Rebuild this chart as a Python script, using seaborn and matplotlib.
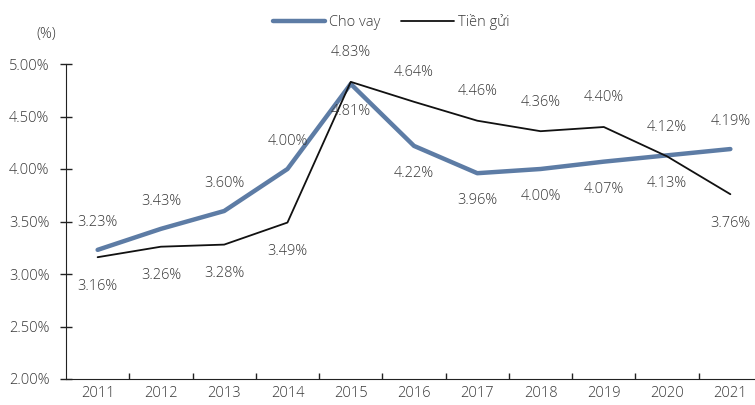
import numpy as np
import pandas as pd
import matplotlib
matplotlib.use("Agg")
import matplotlib.pyplot as plt
import seaborn as sns
from matplotlib.ticker import FixedLocator, PercentFormatter
from matplotlib.lines import Line2D

years = ["2011", "2012", "2013", "2014", "2015", "2016", "2017", "2018", "2019", "2020", "2021"]
cho_vay = [3.23, 3.43, 3.60, 4.00, 4.81, 4.22, 3.96, 4.00, 4.07, 4.13, 4.19]
tien_gui = [3.16, 3.26, 3.28, 3.49, 4.83, 4.64, 4.46, 4.36, 4.40, 4.12, 3.76]
# vị trí nhãn: +1 trên, -1 dưới
cho_vay_pos = [1, 1, 1, 1, -1, -1, -1, -1, -1, -1, 1]
tien_gui_pos = [-1, -1, -1, -1, 1, 1, 1, 1, 1, 1, -1]

sns.set_style("white")
plt.rcParams["font.family"] = ["Open Sans", "DejaVu Sans"]
text_col = "#383838"
fs = 10.5

df = pd.DataFrame({
    "x": list(range(len(years))) * 2,
    "val": cho_vay + tien_gui,
    "series": ["Cho vay"] * len(years) + ["Tiền gửi"] * len(years),
})

fig = plt.figure(figsize=(7.55, 4.05), dpi=100)
ax = fig.add_axes([66 / 755, 26 / 405, 696 / 755, 315 / 405])

sns.lineplot(data=df, x="x", y="val", hue="series", size="series",
             sizes={"Cho vay": 3.2, "Tiền gửi": 1.3},
             palette={"Cho vay": "#5d7ca5", "Tiền gửi": "#111111"},
             ax=ax, legend=False)

for i in range(len(years)):
    ax.annotate(f"{cho_vay[i]:.2f}%", (i, cho_vay[i]), xytext=(0, 20 * cho_vay_pos[i]),
                textcoords="offset points", ha="center", va="center",
                fontsize=fs, color=text_col, fontweight="light")
    ax.annotate(f"{tien_gui[i]:.2f}%", (i, tien_gui[i]), xytext=(0, 21 * tien_gui_pos[i]),
                textcoords="offset points", ha="center", va="center",
                fontsize=fs, color=text_col, fontweight="light")

ax.set_xlim(-0.5, len(years) - 0.5)
ax.set_ylim(2.0, 5.0)
ax.set_yticks(np.arange(2.0, 5.01, 0.5))
ax.yaxis.set_major_formatter(PercentFormatter(decimals=2))
ax.set_xticks(range(len(years)))
ax.set_xticklabels(years)
ax.xaxis.set_minor_locator(FixedLocator(np.arange(0.5, len(years), 1)))
ax.tick_params(axis="x", which="major", length=0, pad=5, labelsize=fs, labelcolor=text_col)
ax.tick_params(axis="x", which="minor", direction="in", length=4, width=1, color="#222222", bottom=True)
ax.tick_params(axis="y", direction="inout", length=8, width=1, color="#222222", pad=8,
               labelsize=fs, labelcolor=text_col, left=True)
for lab in ax.get_xticklabels() + ax.get_yticklabels():
    lab.set_fontweight("light")

sns.despine(ax=ax, top=True, right=True)
ax.spines["left"].set_color("#222222")
ax.spines["bottom"].set_color("#222222")
ax.set_xlabel("")
ax.set_ylabel("")

fig.text(46 / 755, 1 - 35 / 405, "(%)", ha="center", va="center", fontsize=fs,
         color=text_col, fontweight="light")

handles = [Line2D([], [], color="#5d7ca5", lw=3.2), Line2D([], [], color="#111111", lw=1.3)]
leg = fig.legend(handles, ["Cho vay", "Tiền gửi"], loc="center", bbox_to_anchor=(391 / 755, 1 - 22 / 405),
                 ncol=2, frameon=False, fontsize=fs, handlelength=3.6, columnspacing=1.4,
                 handletextpad=0.3, labelcolor=text_col)
for t in leg.get_texts():
    t.set_fontweight("light")

fig.savefig("out.png", dpi=100)
